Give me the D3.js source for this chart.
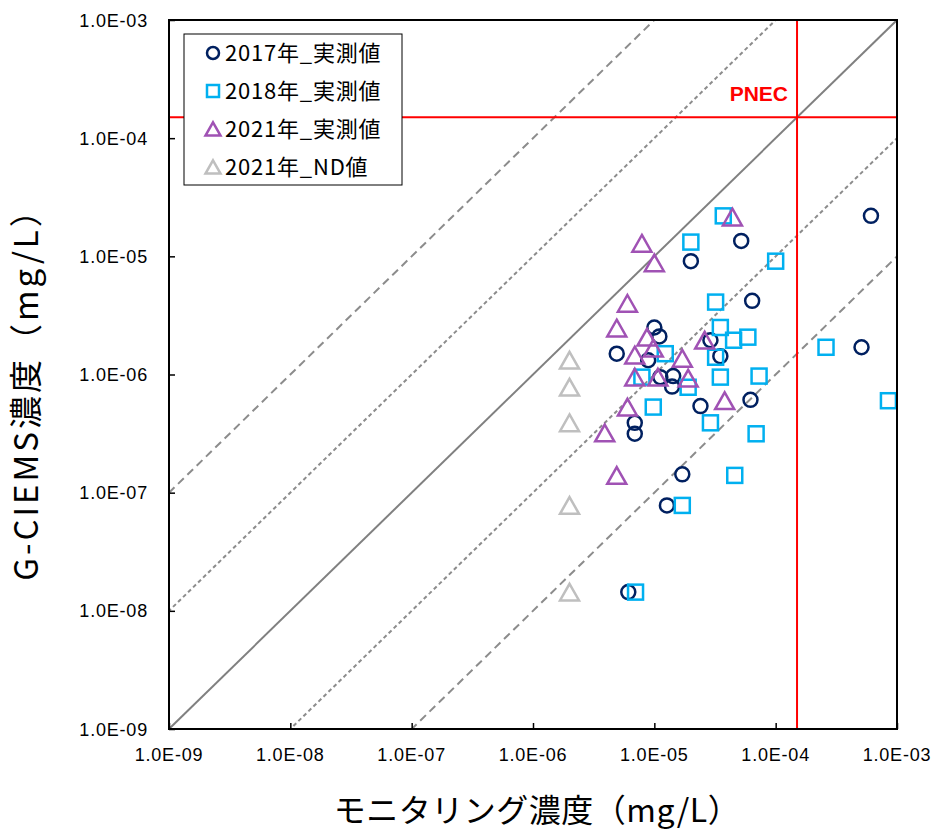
<!DOCTYPE html>
<html>
<head>
<meta charset="utf-8">
<script src="https://cdn.jsdelivr.net/npm/d3@7"></script>
<style>
  body { margin: 0; background: #fff; }
  svg { display: block; }
</style>
</head>
<body>
<svg id="chart" width="936" height="834"></svg>
<script>
// data: [monitoring concentration, G-CIEMS concentration] in mg/L
let obs2017 = [
  [6.1e-4, 2.2e-5], [5.1e-4, 1.7e-6], [5.2e-5, 1.35e-5], [6.4e-5, 4.2e-6],
  [6.2e-5, 6.1e-7], [2.0e-5, 9.1e-6], [2.9e-5, 1.95e-6], [3.5e-5, 1.43e-6],
  [2.4e-5, 5.4e-7], [1.0e-5, 2.5e-6], [1.1e-5, 2.1e-6], [4.9e-6, 1.5e-6],
  [8.9e-6, 1.32e-6], [1.12e-5, 9.5e-7], [1.43e-5, 9.7e-7], [1.4e-5, 7.9e-7],
  [6.9e-6, 3.9e-7], [6.9e-6, 3.15e-7], [1.7e-5, 1.43e-7], [1.27e-5, 7.8e-8],
  [6.1e-6, 1.44e-8]
];
let obs2018 = [
  [3.7e-5, 2.2e-5], [2.0e-5, 1.32e-5], [1.0e-4, 9.1e-6], [3.2e-5, 4.1e-6],
  [3.5e-5, 2.5e-6], [5.9e-5, 2.07e-6], [4.5e-5, 1.95e-6], [3.2e-5, 1.4e-6],
  [1.23e-5, 1.5e-6], [3.5e-5, 9.5e-7], [7.3e-5, 9.7e-7], [2.6e-4, 1.7e-6],
  [8.5e-4, 6.0e-7], [1.9e-5, 7.8e-7], [9.8e-6, 5.3e-7], [2.9e-5, 3.9e-7],
  [6.9e-5, 3.15e-7], [4.6e-5, 1.4e-7], [1.7e-5, 7.8e-8], [7.0e-6, 1.44e-8],
  [7.9e-6, 9.5e-7]
];
let obs2021 = [
  [4.4e-5, 2.15e-5], [7.9e-6, 1.29e-5], [1.0e-5, 8.8e-6], [6.0e-6, 4.0e-6],
  [4.9e-6, 2.47e-6], [8.7e-6, 2.07e-6], [9.8e-6, 1.67e-6], [6.9e-6, 1.46e-6],
  [1.7e-5, 1.37e-6], [2.6e-5, 1.95e-6], [6.9e-6, 9.5e-7], [1.07e-5, 9.5e-7],
  [1.9e-5, 9.3e-7], [6.0e-6, 5.3e-7], [3.8e-5, 6.0e-7], [3.9e-6, 3.2e-7],
  [4.9e-6, 1.4e-7]
];
let nd2021 = [
  [2.0e-6, 1.32e-6], [2.0e-6, 7.8e-7], [2.0e-6, 3.9e-7], [2.0e-6, 7.8e-8],
  [2.0e-6, 1.44e-8]
];
let pnec = 1.5e-4;
let ratios = [1, 10, 100, 0.1, 0.01];
let tickValues = [1e-9, 1e-8, 1e-7, 1e-6, 1e-5, 1e-4, 1e-3];
let legendLabels = ["2017年_実測値", "2018年_実測値", "2021年_実測値", "2021年_ND値"];

let plotL = 169, plotR = 897, plotT = 20, plotB = 729;
let svg = d3.select("#chart");

let x = d3.scaleLog().domain([1e-9, 1e-3]).range([plotL, plotR]);
let y = d3.scaleLog().domain([1e-9, 1e-3]).range([plotB, plotT]);

function fmt(v) {
  let e = Math.round(Math.log10(v));
  return "1.0E" + (e < 0 ? "-" : "+") + String(Math.abs(e)).padStart(2, "0");
}

svg.append("defs").append("clipPath")
  .attr("id", "plotclip")
  .append("rect")
  .attr("x", plotL).attr("y", plotT)
  .attr("width", plotR - plotL).attr("height", plotB - plotT);

let plot = svg.append("g").attr("clip-path", "url(#plotclip)");

// ratio lines
let ratioLine = d3.line()
  .x(function(d) { return x(d[0]); })
  .y(function(d) { return y(d[1]); });

plot.selectAll("path.ratio")
  .data(ratios)
  .enter().append("path")
  .attr("class", "ratio")
  .attr("d", function(k) { return ratioLine([[1e-10, k*1e-10], [1e-2, k*1e-2]]); })
  .attr("fill", "none")
  .attr("stroke", function(k) { return k == 1 ? "#808080" : "#8c8c8c"; })
  .attr("stroke-width", 2)
  .attr("stroke-dasharray", function(k) {
    if (k == 1) return null;
    return (k == 10 || k == 0.1) ? "4,3" : "8,5";
  });

// PNEC lines
plot.append("line")
  .attr("x1", x(pnec)).attr("x2", x(pnec))
  .attr("y1", plotT).attr("y2", plotB)
  .attr("stroke", "#ff0000").attr("stroke-width", 2);
plot.append("line")
  .attr("x1", plotL).attr("x2", plotR)
  .attr("y1", y(pnec)).attr("y2", y(pnec))
  .attr("stroke", "#ff0000").attr("stroke-width", 2);

svg.append("text")
  .attr("x", x(pnec) - 9)
  .attr("y", y(pnec) - 16)
  .attr("text-anchor", "end")
  .attr("fill", "#ff0000")
  .style("font", "bold 21px 'Liberation Sans', Arial, sans-serif")
  .text("PNEC");

// markers
let triPath = function(w) {
  let h = w * 0.88;
  return "M0," + (-h/2) + "L" + (w/2) + "," + (h/2) + "L" + (-w/2) + "," + (h/2) + "Z";
};

plot.selectAll("circle.s2017")
  .data(obs2017)
  .enter().append("circle")
  .attr("class", "s2017")
  .attr("cx", function(d) { return x(d[0]); })
  .attr("cy", function(d) { return y(d[1]); })
  .attr("r", 7)
  .attr("fill", "none")
  .attr("stroke", "#002060")
  .attr("stroke-width", 2.5);

plot.selectAll("rect.s2018")
  .data(obs2018)
  .enter().append("rect")
  .attr("class", "s2018")
  .attr("x", function(d) { return x(d[0]) - 7.5; })
  .attr("y", function(d) { return y(d[1]) - 7.5; })
  .attr("width", 15).attr("height", 15)
  .attr("fill", "none")
  .attr("stroke", "#00b0f0")
  .attr("stroke-width", 2.5);

plot.selectAll("path.s2021")
  .data(obs2021)
  .enter().append("path")
  .attr("class", "s2021")
  .attr("transform", function(d) { return "translate(" + x(d[0]) + "," + y(d[1]) + ")"; })
  .attr("d", triPath(19))
  .attr("fill", "none")
  .attr("stroke", "#a052b4")
  .attr("stroke-width", 2.5)
  .attr("stroke-linejoin", "miter");

plot.selectAll("path.nd")
  .data(nd2021)
  .enter().append("path")
  .attr("class", "nd")
  .attr("transform", function(d) { return "translate(" + x(d[0]) + "," + y(d[1]) + ")"; })
  .attr("d", triPath(19))
  .attr("fill", "none")
  .attr("stroke", "#bfbfbf")
  .attr("stroke-width", 2.5);

// axes (ticks inside)
svg.append("g")
  .attr("transform", "translate(0," + plotB + ")")
  .call(d3.axisTop(x).tickValues(tickValues).tickSize(6).tickFormat(""))
  .call(function(g) { g.select(".domain").remove(); })
  .selectAll("line").attr("stroke", "#000").attr("stroke-width", 1.5);

svg.append("g")
  .attr("transform", "translate(" + plotL + ",0)")
  .call(d3.axisRight(y).tickValues(tickValues).tickSize(6).tickFormat(""))
  .call(function(g) { g.select(".domain").remove(); })
  .selectAll("line").attr("stroke", "#000").attr("stroke-width", 1.5);

svg.selectAll("text.xtick")
  .data(tickValues)
  .enter().append("text")
  .attr("class", "xtick")
  .attr("x", function(d) { return x(d); })
  .attr("y", plotB + 32)
  .attr("text-anchor", "middle")
  .style("font", "18px 'Liberation Sans', Arial, sans-serif")
  .style("letter-spacing", "0.8px")
  .text(fmt);

svg.selectAll("text.ytick")
  .data(tickValues)
  .enter().append("text")
  .attr("class", "ytick")
  .attr("x", plotL - 21)
  .attr("y", function(d) { return y(d) + 6.5; })
  .attr("text-anchor", "end")
  .style("font", "18px 'Liberation Sans', Arial, sans-serif")
  .style("letter-spacing", "0.8px")
  .text(fmt);

// frame
svg.append("rect")
  .attr("x", plotL).attr("y", plotT)
  .attr("width", plotR - plotL).attr("height", plotB - plotT)
  .attr("fill", "none")
  .attr("stroke", "#000")
  .attr("stroke-width", 2);

// axis titles
svg.append("text")
  .attr("x", 537)
  .attr("y", 822)
  .attr("text-anchor", "middle")
  .style("font", "32px 'Noto Sans CJK JP', sans-serif")
  .style("letter-spacing", "0.5px")
  .text("モニタリング濃度（mg/L）");

svg.append("text")
  .attr("transform", "translate(38,386) rotate(-90)")
  .attr("text-anchor", "middle")
  .style("font", "33px 'Noto Sans CJK JP', sans-serif")
  .style("letter-spacing", "3px")
  .text("G-CIEMS濃度（mg/L）");

// legend
let legend = svg.append("g");
legend.append("rect")
  .attr("x", 184).attr("y", 34)
  .attr("width", 218).attr("height", 151)
  .attr("fill", "#fff")
  .attr("stroke", "#000")
  .attr("stroke-width", 1);

let legendRows = legend.selectAll("g.row")
  .data(legendLabels)
  .enter().append("g")
  .attr("class", "row")
  .attr("transform", function(d, i) { return "translate(213," + (53 + i*38) + ")"; });

legendRows.each(function(d, i) {
  let g = d3.select(this);
  if (i == 0) {
    g.append("circle").attr("r", 6).attr("fill", "none")
      .attr("stroke", "#002060").attr("stroke-width", 2.5);
  } else if (i == 1) {
    g.append("rect").attr("x", -6).attr("y", -6).attr("width", 12).attr("height", 12)
      .attr("fill", "none").attr("stroke", "#00b0f0").attr("stroke-width", 2.5);
  } else {
    g.append("path").attr("d", triPath(15)).attr("fill", "none")
      .attr("stroke", i == 2 ? "#a052b4" : "#bfbfbf").attr("stroke-width", 2.5);
  }
  g.append("text")
    .attr("x", 12)
    .attr("y", 8)
    .style("font", "22px 'Noto Sans CJK JP', sans-serif")
    .style("letter-spacing", "0.8px")
    .text(d);
});
</script>
</body>
</html>
